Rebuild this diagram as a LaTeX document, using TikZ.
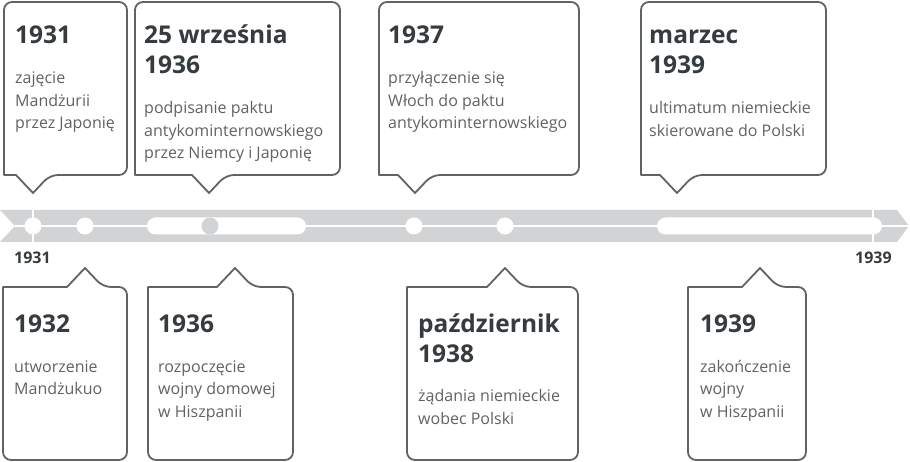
\documentclass[tikz,border=0pt]{standalone}
\usepackage{fontspec}
\setmainfont{Open Sans}
\definecolor{bandc}{HTML}{D1D3D4}
\definecolor{linec}{HTML}{5F6366}
\definecolor{headc}{HTML}{353B3E}
\definecolor{bodyc}{HTML}{5F6366}
\newcommand{\evtext}[2]{\parbox[t]{300pt}{\raggedright\fontsize{24.5}{30}\bfseries\selectfont\leavevmode #1\par\vspace{17.5pt}\fontsize{16}{22.5}\mdseries\selectfont\leavevmode\color{bodyc}#2}}
\tikzset{
  boxline/.style={draw=linec, line width=1.8pt, fill=white, line join=round},
  evt/.style={anchor=base west, inner sep=0pt, text=headc},
  yearlbl/.style={anchor=base west, inner sep=0pt, text=headc, font=\fontsize{16}{18}\bfseries\selectfont},
  white line/.style={draw=white, line width=2pt}
}
\begin{document}
\begin{tikzpicture}[x=1pt,y=-1pt]
\useasboundingbox (0,0) rectangle (910,462);
% timeline band
\fill[bandc] (0,210) -- (897,210) -- (909,226) -- (897,242) -- (0,242) -- (15,226) -- cycle;
\draw[white line] (15,226) -- (909,226);
\draw[white line] (33,210) -- (33,242);
\draw[white line] (873,210) -- (873,242);
\fill[white, rounded corners=8.5pt] (147,217.5) rectangle (306,234.5);
\fill[white, rounded corners=8.5pt] (657,217.5) rectangle (882,234.5);
\foreach \cx in {33,85,414,505} \fill[white] (\cx,226) circle[radius=8.5pt];
\fill[bandc] (210,226) circle[radius=8.5pt];
\node[yearlbl] (l1931) at (14,264) {1931};
\node[yearlbl] (l1939) at (855,264) {1939};
% top boxes
\foreach \l/\r/\p in {4/127/33, 135/340/209, 379/579/415, 641/826/677}{
  \draw[boxline] (\p,193) -- ({\p-17},175) -- (\l,175) [rounded corners=8pt] -- (\l,2) -- (\r,2) -- (\r,175) -- ({\p+17},175) [sharp corners] -- cycle;
}
% bottom boxes
\foreach \l/\r/\p in {3/127/85, 148/293/235, 407/578/505, 688/806/760}{
  \draw[boxline] (\p,268) -- ({\p-18},287) -- (\l,287) [rounded corners=8pt] -- (\l,460) -- (\r,460) -- (\r,287) -- ({\p+18},287) [sharp corners] -- cycle;
}
% texts
\node[evt] (t1) at (15,44) {\evtext{1931}{zajęcie\\Mandżurii\\przez Japonię}};
\node[evt] (t2) at (144,44) {\evtext{25 września\\1936}{podpisanie paktu\\antykominternowskiego\\przez Niemcy i Japonię}};
\node[evt] (t3) at (388,44) {\evtext{1937}{przyłączenie się\\Włoch do paktu\\antykominternowskiego}};
\node[evt] (t4) at (649,44) {\evtext{marzec\\1939}{ultimatum niemieckie\\skierowane do Polski}};
\node[evt] (t5) at (14,332) {\evtext{1932}{utworzenie\\Mandżukuo}};
\node[evt] (t6) at (158,332) {\evtext{1936}{rozpoczęcie\\wojny domowej\\w Hiszpanii}};
\node[evt] (t7) at (418,332) {\evtext{październik\\1938}{żądania niemieckie\\wobec Polski}};
\node[evt] (t8) at (700,332) {\evtext{1939}{zakończenie\\wojny\\w Hiszpanii}};
\end{tikzpicture}
\end{document}
